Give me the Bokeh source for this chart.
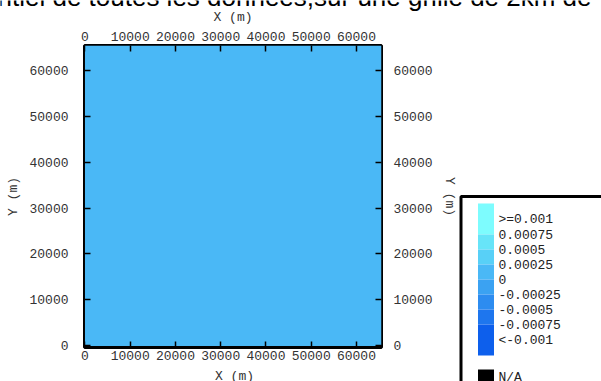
import numpy as np
from bokeh.plotting import figure
from bokeh.models import Range1d, FixedTicker, LinearAxis, ColumnDataSource, LinearColorMapper
from bokeh.core.properties import value
from bokeh.embed import file_html
from bokeh.resources import INLINE

# ---------------- data ----------------
title_text = "ntiel de toutes les données,sur une grille de 2km de"
x_label = "X (m)"
y_label = "Y (m)"
tick_values = [0, 10000, 20000, 30000, 40000, 50000, 60000]
grid_extent = 65536          # metres covered by the grid
grid_cells = 32              # 2 km cells
field_values = [[0.0] * grid_cells for _ in range(grid_cells)]   # uniform field read as ~0
legend_labels = [">=0.001", "0.00075", "0.0005", "0.00025", "0",
                 "-0.00025", "-0.0005", "-0.00075", "<-0.001"]
legend_colors = ["#7dfcfe", "#67e4f8", "#58d0f7", "#4ab8f6",
                 "#3ba2f2", "#2d8cf0", "#1e76ee", "#0d5fec"]   # top (high) -> bottom (low)
class_low, class_high = -0.001, 0.001
na_label = "N/A"
na_color = "#000000"

# ---------------- layout constants ----------------
W, H = 601, 381
MAIN_W = 459
FL, FR, FT, FB = 84, 384, 45, 347   # frame edges in page pixels
MONO = "Liberation Mono"
TXT = "#333333"

mapper = LinearColorMapper(palette=legend_colors[::-1], low=class_low, high=class_high)

# ---------------- main map ----------------
p = figure(width=MAIN_W, height=H, x_range=Range1d(-100, grid_extent), y_range=Range1d(-500, grid_extent),
           output_backend="svg", toolbar_location=None, title=None,
           x_axis_location=None, y_axis_location=None, margin=0,
           min_border_left=FL, min_border_right=MAIN_W - FR, min_border_top=FT, min_border_bottom=H - FB)
p.grid.grid_line_color = None
p.background_fill_color = legend_colors[3]
p.border_fill_color = "white"
p.outline_line_color = "black"
p.outline_line_width = 3
p.outline_line_alpha = 1.0

p.image(image=[np.array(field_values, dtype=float)], x=0, y=0, dw=grid_extent, dh=grid_extent,
        color_mapper=mapper)


def make_axis(standoff, label=None, label_standoff=5):
    return LinearAxis(ticker=FixedTicker(ticks=tick_values), axis_label=label,
                      major_tick_in=6, major_tick_out=0, minor_tick_in=0, minor_tick_out=0,
                      axis_line_color=None, major_tick_line_color="black", major_tick_line_width=1.5,
                      major_label_standoff=standoff,
                      major_label_text_font=MONO, major_label_text_font_size="13px",
                      major_label_text_color=TXT,
                      axis_label_standoff=label_standoff,
                      axis_label_text_font=MONO, axis_label_text_font_size="13px",
                      axis_label_text_font_style="normal", axis_label_text_color=TXT)

p.add_layout(make_axis(3), "below")
p.add_layout(make_axis(5, x_label, 4), "above")
p.add_layout(make_axis(16, y_label, 5), "left")
p.add_layout(make_axis(12, y_label, 6), "right")

# ---------------- overlay in page pixels: title, bottom axis title, legend ----------------
ov = figure(width=W, height=H, x_range=Range1d(0, W), y_range=Range1d(H, 0),
            output_backend="svg", toolbar_location=None, title=None,
            x_axis_location=None, y_axis_location=None, min_border=0, margin=0,
            styles={"position": "absolute", "left": "0px", "top": "0px"})
ov.min_border_left = ov.min_border_right = ov.min_border_top = ov.min_border_bottom = 0
ov.grid.grid_line_color = None
ov.outline_line_color = None
ov.background_fill_alpha = 0
ov.border_fill_alpha = 0

# chart title, cut by the window top as in the reference
ov.text(x=[-3], y=[-4], text=[title_text], text_font=value("Liberation Sans"), text_font_size="26px",
        text_color="black", text_align="left", text_baseline="alphabetic")
# bottom axis title
ov.text(x=[(FL + FR) / 2], y=[376], text=[x_label], text_font=value(MONO), text_font_size="13px",
        text_color=TXT, text_align="center", text_baseline="middle")

# legend box
ov.quad(left=460.5, right=660, top=196, bottom=440, fill_color="white", line_color="black", line_width=3)

SW_L, SW_R = 477.5, 493.5
bounds = [203] + [234 + 15 * i for i in range(7)] + [355]
ov.quad(source=ColumnDataSource(dict(top=bounds[:-1], bottom=bounds[1:], color=legend_colors)),
        left=SW_L, right=SW_R, top="top", bottom="bottom", fill_color="color", line_color=None)
label_y = [219] + [234 + 15 * i for i in range(7)] + [340]
ov.text(source=ColumnDataSource(dict(y=label_y, t=legend_labels)), x=498, y="y", text="t",
        text_font=value(MONO), text_font_size="13px", text_color="#222222",
        text_align="left", text_baseline="middle")

ov.quad(left=SW_L, right=SW_R, top=369, bottom=420, fill_color=na_color, line_color=None)
ov.text(x=[498], y=[377], text=[na_label], text_font=value(MONO), text_font_size="13px",
        text_color="#222222", text_align="left", text_baseline="middle")

open("out.html", "w").write(file_html([p, ov], INLINE))
